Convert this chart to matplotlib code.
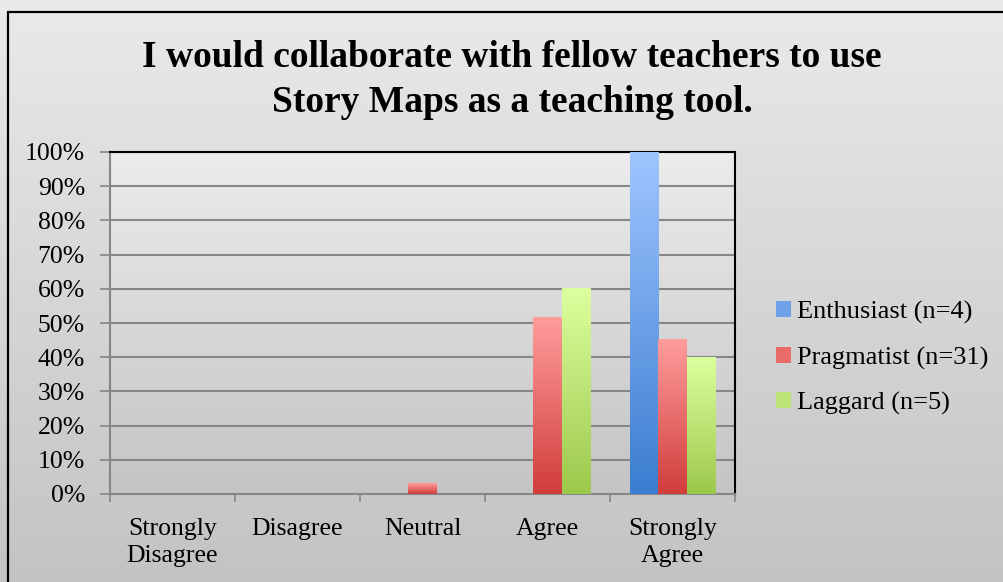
import numpy as np
import matplotlib
matplotlib.use("Agg")
import matplotlib.pyplot as plt
from matplotlib.colors import LinearSegmentedColormap
from matplotlib.patches import Rectangle, Patch

categories = ["Strongly\nDisagree", "Disagree", "Neutral", "Agree", "Strongly\nAgree"]
series_names = ["Enthusiast (n=4)", "Pragmatist (n=31)", "Laggard (n=5)"]
enthusiast = [0, 0, 0, 0, 100]
pragmatist = [0, 0, 3.2, 51.6, 45.2]
laggard = [0, 0, 0, 60, 40]
yticks = [0, 10, 20, 30, 40, 50, 60, 70, 80, 90, 100]
title = "I would collaborate with fellow teachers to use\nStory Maps as a teaching tool."

grad = {
    "Enthusiast (n=4)": ("#9fc5ff", "#3b7dd0"),
    "Pragmatist (n=31)": ("#ff9d9c", "#d03d3b"),
    "Laggard (n=5)": ("#ddff9e", "#9cc84b"),
}
legend_colors = ["#6fa0e8", "#e86c6a", "#bde275"]

plt.rcParams['font.family'] = ['Liberation Serif', 'DejaVu Serif']

W, H = 10.04, 5.82
fig = plt.figure(figsize=(W, H), dpi=100)

# figure background gradient
bg = fig.add_axes([0, 0, 1, 1], zorder=-10)
g = np.linspace(0, 1, 256).reshape(-1, 1)
bgcmap = LinearSegmentedColormap.from_list("bg", ["#eaeaea", "#c3c3c3"])
bg.imshow(g, aspect='auto', cmap=bgcmap, extent=[0, 1, 0, 1], origin='upper')
bg.set_xlim(0, 1); bg.set_ylim(0, 1)
bg.axis('off')
bg.add_patch(Rectangle((8 / 1004, -0.1), 1.2, (582 - 12) / 582 + 0.1, fill=False,
                       edgecolor='black', linewidth=1.6, transform=bg.transAxes))

left, right, top, bottom = 110, 735, 152, 494
ax = fig.add_axes([left / 1004, 1 - bottom / 582, (right - left) / 1004, (bottom - top) / 582])
ax.set_xlim(0, 5)
ax.set_ylim(0, 100)
ax.patch.set_alpha(0)
ax.imshow(g, aspect='auto', cmap=LinearSegmentedColormap.from_list("pa", ["#ececec", "#c4c4c4"]),
          extent=[0, 5, 0, 100], origin='upper', zorder=0)

for y in yticks[1:]:
    ax.axhline(y, color='#878787', linewidth=1.5, zorder=1)

width = 0.225
x = np.arange(len(categories)) + 0.5
all_series = [enthusiast, pragmatist, laggard]
for i, (name, vals) in enumerate(zip(series_names, all_series)):
    c_top, c_bot = grad[name]
    cmap = LinearSegmentedColormap.from_list(name, [c_top, c_bot])
    for xi, v in zip(x + (i - 1) * width, vals):
        if v <= 0:
            continue
        x0 = xi - width / 2
        ax.imshow(g, aspect='auto', cmap=cmap, extent=[x0, x0 + width, 0, v],
                  origin='upper', zorder=3)

ax.set_xlim(0, 5)
ax.set_ylim(0, 100)

ax.set_yticks(yticks)
ax.set_yticklabels([f"{t}%" for t in yticks], fontsize=18.5)
ax.set_xticks(np.arange(0, 6))
ax.set_xticklabels([])
ax.set_xticks(x, minor=True)
ax.set_xticklabels(categories, minor=True, fontsize=18.5, linespacing=1.3)
ax.tick_params(axis='x', which='minor', length=0, pad=17)
ax.tick_params(axis='x', which='major', length=6, color='#868686', width=1.2)
ax.tick_params(axis='y', length=7, color='#868686', width=1.2, pad=11)

for s in ['left', 'bottom']:
    ax.spines[s].set_color('#868686')
    ax.spines[s].set_linewidth(1.5)
for s in ['top', 'right']:
    ax.spines[s].set_color('black')
    ax.spines[s].set_linewidth(1.5)

handles = [Patch(facecolor=c, edgecolor='none', label=n)
           for n, c in zip(series_names, legend_colors)]
fig.legend(handles=handles, loc='center left', bbox_to_anchor=(776 / 1004, 1 - 358 / 582),
           frameon=False, fontsize=19, handlelength=0.55, handleheight=0.55,
           handletextpad=0.25, labelspacing=0.85, borderaxespad=0, borderpad=0)

fig.text(512 / 1004, 1 - 80 / 582, title, ha='center', va='center', fontsize=27,
         fontweight='bold', linespacing=1.35)

fig.savefig("out.png", dpi=100)
